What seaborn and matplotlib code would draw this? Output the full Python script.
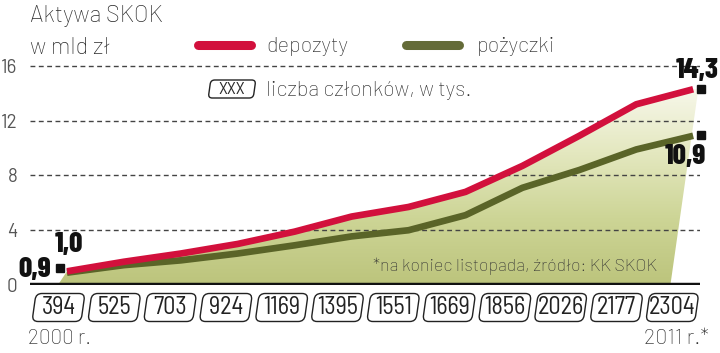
import numpy as np
import pandas as pd
import seaborn as sns
import matplotlib
matplotlib.use("Agg")
import matplotlib.pyplot as plt
from matplotlib.patches import FancyBboxPatch, Polygon
from matplotlib.transforms import Affine2D
from matplotlib.colors import LinearSegmentedColormap

# ---- data ----
years = list(range(2000, 2012))
depozyty = [1.0, 1.7, 2.3, 3.0, 3.9, 5.0, 5.7, 6.8, 8.7, 10.9, 13.2, 14.3]
pozyczki = [0.9, 1.45, 1.8, 2.3, 2.9, 3.55, 4.0, 5.1, 7.1, 8.4, 9.9, 10.9]
czlonkowie = [394, 525, 703, 924, 1169, 1395, 1551, 1669, 1856, 2026, 2177, 2304]
y_ticks = [0, 4, 8, 12, 16]

RED = "#d2103c"
GREEN = "#5a6428"
W, H = 720, 353

sns.set_theme(style="white")
BODY = ["Barlow", "Open Sans", "DejaVu Sans"]
COND = ["Barlow Condensed", "DejaVu Sans"]
SEMI = ["Barlow Semi Condensed", "Barlow Condensed", "DejaVu Sans"]
plt.rcParams["font.family"] = BODY

fig = plt.figure(figsize=(W / 100, H / 100), dpi=100)
ax = fig.add_axes([30 / W, (H - 285) / H, 670 / W, 225 / H])

idx = np.arange(len(years))
df = pd.DataFrame({"i": idx, "depozyty": depozyty, "pozyczki": pozyczki})

xmin, xmax = -0.65, 11.12
ymax = 225 / 13.69

# gradient fill under the deposit line
cmap = LinearSegmentedColormap.from_list(
    "fill", ["#bcc47c", "#cdd596", "#e4e8c0", "#f8f8ec"])
grad = np.linspace(0, 1, 256).reshape(-1, 1)
img = ax.imshow(grad, extent=[xmin, xmax, 0, 14.6], origin="lower",
                aspect="auto", cmap=cmap, zorder=1)
poly_pts = [(-0.16, 0)] + list(zip(idx, depozyty)) + [(idx[-1] + 0.09, depozyty[-1]), (idx[-1] - 0.4, 0)]
poly = Polygon(poly_pts, closed=True, transform=ax.transData, facecolor="none", edgecolor="none")
ax.add_patch(poly)
img.set_clip_path(poly)

sns.lineplot(data=df, x="i", y="pozyczki", color=GREEN, linewidth=4.8, ax=ax,
             zorder=4, solid_capstyle="butt")
sns.lineplot(data=df, x="i", y="depozyty", color=RED, linewidth=4.8, ax=ax,
             zorder=5, solid_capstyle="butt")

ax.set_xlim(xmin, xmax)
ax.set_ylim(0, ymax)
ax.set_yticks(y_ticks)
ax.set_yticklabels([str(t) for t in y_ticks])
ax.set_xticks([])
ax.set_xlabel("")
ax.set_ylabel("")
for s in ax.spines.values():
    s.set_visible(False)
ax.tick_params(axis="y", length=0, pad=9, labelsize=13.5, labelcolor="#555555")
for t in y_ticks[1:]:
    ax.axhline(t, color="#444444", lw=1.0, ls=(0, (3.5, 2.5)), zorder=2)
ax.axhline(0, color="#111111", lw=3.2, zorder=6)

# end markers and value labels
mk = dict(marker="s", color="#111111", markersize=5.5, linestyle="none", zorder=7, clip_on=False)
ax.plot([idx[-1] + 0.13], [depozyty[-1] + 0.05], **mk)
ax.plot([idx[-1] + 0.14], [pozyczki[-1] + 0.05], **mk)
ax.plot([-0.12], [1.25], **mk)
lab = dict(fontsize=21, fontweight="heavy", family=COND, color="#111111", zorder=8)
ax.text(idx[-1] + 0.44, depozyty[-1] + 0.45, f"{depozyty[-1]:.1f}".replace(".", ","),
        ha="right", va="bottom", clip_on=False, **lab)
ax.text(idx[-1] + 0.22, pozyczki[-1] - 0.6, f"{pozyczki[-1]:.1f}".replace(".", ","),
        ha="right", va="top", clip_on=False, **lab)
ax.text(-0.22, 2.05, f"{depozyty[0]:.1f}".replace(".", ","), ha="left", va="bottom", **lab)
ax.text(-0.28, 0.25, f"{pozyczki[0]:.1f}".replace(".", ","), ha="right", va="bottom",
        clip_on=False, **lab)


def ftext(px, py, s, **kw):
    fig.text(px / W, 1 - py / H, s, **kw)


TXT = "#2a2a2a"
FS = 15.5
LW_ = "light"
ftext(30, 16, "Aktywa SKOK", fontsize=17, color=TXT, va="center", ha="left", fontweight=LW_)
ftext(30, 48, "w mld zł", fontsize=17, color=TXT, va="center", ha="left", fontweight=LW_)

# legend
fig.add_artist(plt.Line2D([198 / W, 251 / W], [1 - 45 / H] * 2, color=RED, lw=6.5,
                          solid_capstyle="round"))
ftext(266, 47, "depozyty", fontsize=FS, color=TXT, va="center", ha="left", fontweight=LW_)
fig.add_artist(plt.Line2D([406 / W, 459 / W], [1 - 45 / H] * 2, color="#646b38", lw=6.5,
                          solid_capstyle="round"))
ftext(477, 47, "pożyczki", fontsize=FS, color=TXT, va="center", ha="left", fontweight=LW_)


def skew_box(cx, cy, w, h, rs=5):
    p = FancyBboxPatch((-w / 2, -h / 2), w, h,
                       boxstyle=f"round,pad=0,rounding_size={rs}",
                       facecolor="white", edgecolor="#222222", lw=1.0)
    p.set_transform(Affine2D().skew_deg(8, 0).translate(cx, H - cy))
    fig.add_artist(p)


skew_box(232, 89, 45, 18, rs=4)
ftext(232, 89.5, "XXX", fontsize=12.5, family=SEMI, fontweight="normal", color=TXT,
      ha="center", va="center")
ftext(266, 91, "liczba członków, w tys.", fontsize=FS, color=TXT, va="center", ha="left",
      fontweight=LW_)

# member boxes
for i, n in enumerate(czlonkowie):
    cx = 58.5 + 55.8 * i
    skew_box(cx, 307.5, 49, 28, rs=6)
    ftext(cx, 308, str(n), fontsize=17.5, family=SEMI, fontweight="normal", color="#222222",
          ha="center", va="center")

ftext(28, 339, "2000 r.", fontsize=15, color=TXT, ha="left", va="center", fontweight=LW_)
ftext(709, 339, "2011 r.*", fontsize=15.5, color=TXT, ha="right", va="center", fontweight=LW_)
ftext(373, 266, "*na koniec listopada, źródło: KK SKOK", fontsize=12.8, color="#333333",
      ha="left", va="center", fontweight=LW_)

fig.savefig("out.png", dpi=100)
